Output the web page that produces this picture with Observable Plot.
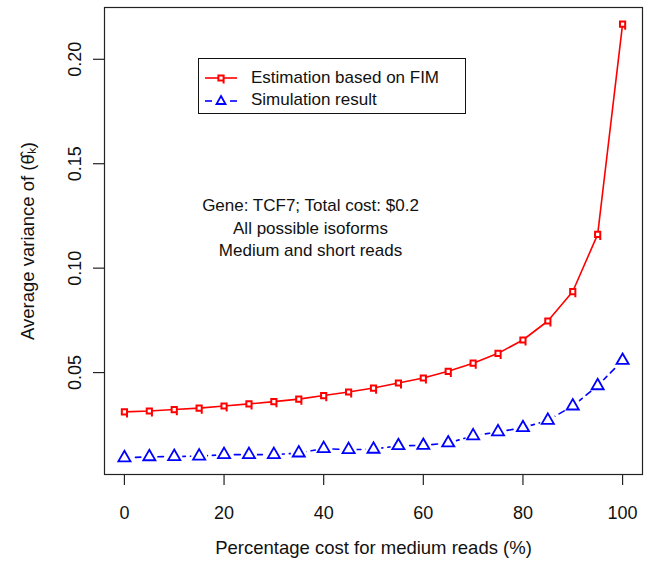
<!DOCTYPE html>
<html>
<head>
<meta charset="utf-8">
<script src="https://cdn.jsdelivr.net/npm/d3@7"></script>
<script src="https://cdn.jsdelivr.net/npm/@observablehq/plot@0.6"></script>
<style>
  html, body { margin: 0; padding: 0; background: #fff; }
  #wrap { position: relative; width: 648px; height: 569px; font-family: "Liberation Sans", Arial, sans-serif; }
  #legend { position: absolute; left: 198px; top: 58px; width: 268px; height: 56px; border: 1px solid #111; background: #fff; box-sizing: border-box; }
  #legend .row { position: absolute; left: 0; height: 20px; display: flex; align-items: center; font-size: 17px; color: #111; white-space: nowrap; }
  #legend svg { margin-left: 5px; margin-right: 13px; }
</style>
</head>
<body>
<div id="wrap"></div>
<script>
const pct = [0,5,10,15,20,25,30,35,40,45,50,55,60,65,70,75,80,85,90,95,100];
const fim = [0.0312,0.0316,0.0323,0.0330,0.0340,0.0350,0.0361,0.0373,0.0390,0.0407,0.0426,0.0450,0.0474,0.0506,0.0545,0.0592,0.0656,0.0747,0.0888,0.1162,0.2168];
const sim = [0.0092,0.0097,0.0098,0.0100,0.0107,0.0107,0.0107,0.0115,0.0136,0.0131,0.0133,0.0150,0.0151,0.0163,0.0197,0.0216,0.0236,0.0271,0.0340,0.0437,0.0558];
const xTicks = [0,20,40,60,80,100];
const yTicks = [0.05,0.10,0.15,0.20];
const seriesNames = ["Estimation based on FIM", "Simulation result"];
const noteLines = ["Gene: TCF7; Total cost: $0.2", "All possible isoforms", "Medium and short reads"];
const xLabel = "Percentage cost for medium reads (%)";
const yLabel = "Average variance of (θ̂ₖ)";

const fimData = pct.map((p, i) => ({p, v: fim[i]}));
const simData = pct.map((p, i) => ({p, v: sim[i]}));

const qSymbol = {
  draw(ctx, size) {
    const h = 2.6;
    ctx.moveTo(-h, -h); ctx.lineTo(h, -h); ctx.lineTo(h, h); ctx.lineTo(-h, h); ctx.closePath();
    ctx.moveTo(h, h); ctx.lineTo(h, h + 3);
  }
};

const chart = Plot.plot({
  width: 648, height: 569,
  marginLeft: 104, marginRight: 6, marginTop: 7, marginBottom: 95,
  style: {fontFamily: "'Liberation Sans', Arial, sans-serif", fontSize: "18px", color: "#111", background: "#fff"},
  x: {domain: [-4, 104]},
  y: {domain: [0.0012, 0.2248]},
  marks: [
    Plot.axisX(xTicks, {tickSize: 11, tickPadding: 21, label: null, stroke: "#222", strokeWidth: 1.2, fontSize: 18}),
    Plot.axisY(yTicks, {tickSize: 11, tickFormat: () => "", label: null, stroke: "#222", strokeWidth: 1.2}),
    Plot.text(yTicks, {y: d => d, text: d => d3.format(".2f")(d), frameAnchor: "left", dx: -29, rotate: -90, textAnchor: "middle", fontSize: 18, fill: "#111"}),
    Plot.text([xLabel], {frameAnchor: "bottom", dy: 79, text: d => d, fontSize: 18.5, fill: "#111"}),
    Plot.text([yLabel], {frameAnchor: "left", dx: -76, rotate: -90, text: d => d, fontSize: 18.5, fill: "#111", textAnchor: "middle"}),
    Plot.text([noteLines.join("\n")], {frameAnchor: "top", dx: -63, dy: 188, lineAnchor: "top", lineHeight: 1.32, text: d => d, fontSize: 17, fill: "#111"}),
    Plot.line(fimData, {x: "p", y: "v", stroke: "#ff0000", strokeWidth: 1.6}),
    Plot.dot(fimData, {x: "p", y: "v", symbol: qSymbol, stroke: "#ff0000", fill: "#fff", strokeWidth: 2}),
    Plot.line(simData, {x: "p", y: "v", stroke: "#0000ff", strokeWidth: 1.6, strokeDasharray: "6,5"}),
    Plot.dot(simData, {x: "p", y: "v", r: 8, fill: "#fff", stroke: "none"}),
    Plot.dot(simData, {x: "p", y: "v", symbol: "triangle", r: 4.5, stroke: "#0000ff", fill: "none", strokeWidth: 1.8}),
    Plot.frame({stroke: "#222", strokeWidth: 1.2})
  ]
});
document.getElementById("wrap").appendChild(chart);

const legend = document.createElement("div");
legend.id = "legend";
legend.innerHTML = `
  <div class="row" style="top:9px">
    <svg width="34" height="16"><line x1="1" y1="8" x2="33" y2="8" stroke="#ff0000" stroke-width="1.6"/>
      <path d="M14.4,5.4h5.2v5.2h-5.2z M19.6,10.6v3" stroke="#ff0000" stroke-width="2" fill="#fff"/></svg>
    <span>${seriesNames[0]}</span>
  </div>
  <div class="row" style="top:31px">
    <svg width="34" height="16"><line x1="1" y1="9" x2="8" y2="9" stroke="#0000ff" stroke-width="1.6"/>
      <line x1="26" y1="9" x2="33" y2="9" stroke="#0000ff" stroke-width="1.6"/>
      <path d="M17,4L21.5,12H12.5Z" stroke="#0000ff" stroke-width="1.8" fill="none"/></svg>
    <span>${seriesNames[1]}</span>
  </div>`;
document.getElementById("wrap").appendChild(legend);
</script>
</body>
</html>
